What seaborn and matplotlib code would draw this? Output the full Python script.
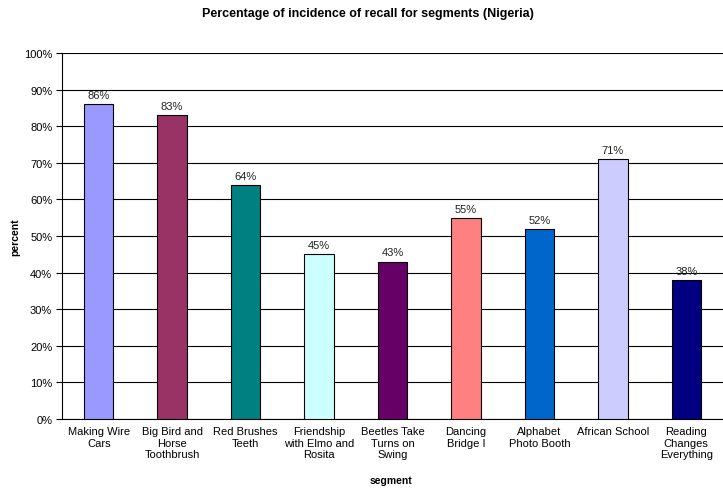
import matplotlib
matplotlib.use("Agg")
import matplotlib.pyplot as plt
import seaborn as sns
import pandas as pd
from matplotlib.ticker import PercentFormatter

segments = [
    "Making Wire\nCars",
    "Big Bird and\nHorse\nToothbrush",
    "Red Brushes\nTeeth",
    "Friendship\nwith Elmo and\nRosita",
    "Beetles Take\nTurns on\nSwing",
    "Dancing\nBridge I",
    "Alphabet\nPhoto Booth",
    "African School",
    "Reading\nChanges\nEverything",
]
recall_pct = [86, 83, 64, 45, 43, 55, 52, 71, 38]
bar_colors = ["#9999FF", "#993366", "#008080", "#CCFFFF", "#660066",
              "#FF8080", "#0066CC", "#CCCCFF", "#000080"]

df = pd.DataFrame({"segment": segments, "percent": recall_pct})

sns.set_style("white")
plt.rcParams["font.family"] = ["Liberation Sans", "DejaVu Sans"]
plt.rcParams["text.color"] = "black"
plt.rcParams["axes.labelcolor"] = "black"
plt.rcParams["xtick.color"] = "black"
plt.rcParams["ytick.color"] = "black"

W, H = 723, 489
fig = plt.figure(figsize=(W / 100, H / 100), dpi=100)
ax = fig.add_axes([62 / W, 1 - 420 / H, 1 - 62 / W, (420 - 54) / H])

sns.barplot(data=df, x="segment", y="percent", hue="segment",
            palette=bar_colors, saturation=1, legend=False, width=0.4,
            edgecolor="black", linewidth=0.8, ax=ax, zorder=3)

for c in ax.containers:
    ax.bar_label(c, fmt="%d%%", padding=3, fontsize=8, color="#222222")

ax.set_ylim(0, 100)
ax.set_yticks(range(0, 101, 10))
ax.yaxis.set_major_formatter(PercentFormatter(decimals=0))
ax.yaxis.grid(True, color="black", linewidth=0.8, zorder=0)
ax.set_axisbelow(True)

ax.set_xlim(-0.5, len(segments) - 0.5)
ax.set_xticks([i + 0.5 for i in range(len(segments) - 1)], minor=False)
ax.set_xticklabels([])
ax.set_xticks(range(len(segments)), minor=True)
ax.set_xticklabels(segments, minor=True, fontsize=8)
ax.tick_params(axis="x", which="minor", length=0, pad=5)
ax.tick_params(axis="x", which="major", length=4, width=0.8, direction="out")
ax.tick_params(axis="y", labelsize=8, length=4, width=0.8, left=True,
               direction="out", pad=3)

for side in ["top", "right"]:
    ax.spines[side].set_visible(False)
for side in ["left", "bottom"]:
    ax.spines[side].set_color("black")
    ax.spines[side].set_linewidth(0.8)

ax_w, ax_h = W - 62, 420 - 54
ax.set_xlabel("segment", fontsize=7.5, fontweight="bold")
ax.xaxis.set_label_coords((391 - 62) / ax_w, -(476 - 420) / ax_h)
ax.set_ylabel("percent", fontsize=7.5, fontweight="bold")
ax.yaxis.set_label_coords(-(62 - 20) / ax_w, 0.5)
fig.text(368 / W, 1 - 14 / H,
         "Percentage of incidence of recall for segments (Nigeria)",
         ha="center", va="center", fontsize=9, fontweight="bold")

fig.savefig("out.png", dpi=100)
